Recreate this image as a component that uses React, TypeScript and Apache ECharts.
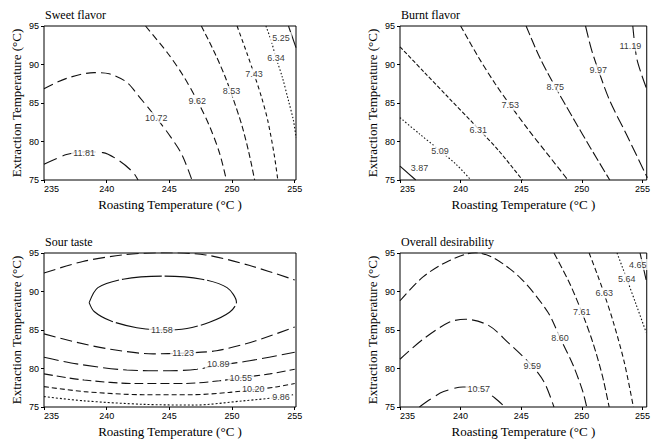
import React, { useEffect, useRef } from "react";
import * as echarts from "echarts";

// ---- axes ----
const roastTicks = [235, 240, 245, 250, 255];
const extractTicks = [75, 80, 85, 90, 95];
const panelTitles = ["Sweet flavor", "Burnt flavor", "Sour taste", "Overall desirability"];
const xAxisName = "Roasting Temperature (°C )";
const yAxisName = "Extraction Temperature (°C)";

// ---- Sweet flavor ----
const sweetLevels = ["11.81", "10.72", "9.62", "8.53", "7.43", "6.34", "5.25"];
const sweetContours = [
  [[235, 77.05], [236.8, 78.3], [238.2, 78.65], [239.7, 78.55], [241.0, 77.5], [242.1, 76.0], [242.5, 75]],
  [[235, 86.85], [236.8, 88.2], [239.0, 88.95], [240.2, 88.8], [241.6, 87.7], [242.6, 85.8], [243.95, 83.1], [245.1, 80.6], [246.0, 78.3], [246.8, 75]],
  [[243.1, 95], [244.9, 91.4], [246.08, 88.6], [247.23, 85.3], [248.2, 82.0], [249.0, 78.5], [249.55, 75]],
  [[247.55, 95], [248.65, 91.4], [249.45, 88.4], [250.1, 85.5], [250.8, 82.0], [251.35, 78.5], [251.8, 75]],
  [[250.4, 95], [251.2, 91.4], [251.75, 88.8], [252.35, 85.75], [252.85, 82.7], [253.35, 78.4], [253.65, 75]],
  [[252.7, 95], [253.1, 93.2], [253.5, 90.9], [254.0, 88.4], [254.5, 85.3], [254.9, 82.7], [255.1, 80.5]],
  [[254.5, 95], [255.1, 92.2]],
];
const sweetLabelAt = [[238.2, 78.5], [243.95, 83.1], [247.23, 85.3], [249.95, 86.5], [251.75, 88.8], [253.5, 90.9], [253.9, 93.5]];

// ---- Burnt flavor ----
const burntLevels = ["3.87", "5.09", "6.31", "7.53", "8.75", "9.97", "11.19"];
const burntContours = [
  [[235, 76.8], [236.3, 75]],
  [[235, 83.1], [236.6, 81.0], [238.3, 78.8], [239.65, 77.0], [240.85, 75]],
  [[235, 92.3], [237, 89.0], [239, 85.7], [241.2, 82.1], [243.2, 78.7], [245.1, 75]],
  [[240.0, 95], [241.45, 91], [242.85, 87.5], [244.1, 84.7], [245.55, 81.6], [247.15, 78.4], [248.85, 75]],
  [[245.4, 95], [246.5, 91.0], [247.8, 87.1], [249.4, 82.7], [250.7, 79.2], [252.3, 75]],
  [[250.3, 95], [250.8, 91.9], [251.35, 89.3], [252.3, 85.3], [253.65, 81.0], [255.4, 75.3]],
  [[254.2, 95], [254.5, 91.0], [254.9, 88.8], [255.4, 86.6]],
];
const burntLabelAt = [[236.6, 76.6], [238.3, 78.8], [241.45, 81.5], [244.1, 84.7], [247.8, 87.1], [251.35, 89.3], [254.0, 92.4]];

// ---- Sour taste ----
const sourLevels = ["11.58", "11.23", "11.23", "10.89", "10.55", "10.20", "9.86"];
const sourContours = [
  [[238.6, 88.55], [239.3, 90.5], [241.3, 91.6], [244.5, 92.0], [247.6, 91.6], [249.6, 90.5], [250.35, 88.6], [249.8, 87.3], [248.2, 86.0], [246.4, 85.2], [244.4, 85.0], [242.4, 85.3], [240.3, 86.2], [239.0, 87.4], [238.6, 88.55]],
  [[235, 92.4], [238.1, 93.9], [241.3, 94.75], [244.5, 95.05], [247.9, 94.75], [251.35, 93.4], [255, 91.5]],
  [[235, 84.5], [237.6, 83.4], [240.3, 82.5], [243.7, 81.9], [246.1, 82.0], [248.75, 82.3], [251.9, 83.6], [255, 85.4]],
  [[235, 81.45], [237.6, 80.6], [241.6, 79.8], [245.05, 79.7], [247.2, 79.9], [248.9, 80.4], [251.4, 81.0], [255, 82.1]],
  [[235, 79.3], [238.2, 78.5], [242.4, 78.05], [246.1, 78.05], [249.0, 78.4], [250.7, 78.8], [253.0, 79.3], [255, 79.9]],
  [[235, 77.65], [238.2, 77.0], [242.9, 76.6], [246.9, 76.6], [249.8, 76.9], [251.7, 77.25], [253.5, 77.6], [255, 78.05]],
  [[235, 76.35], [238.2, 75.8], [242.9, 75.35], [246.9, 75.25], [250.9, 75.8], [253.9, 76.3], [255, 76.65]],
];
const sourLabelAt = [[244.4, 85.0], null, [246.1, 82.0], [248.9, 80.6], [250.7, 78.8], [251.7, 77.3], [253.9, 76.3]];

// ---- Overall desirability ----
const overallLevels = ["10.57", "9.59", "8.60", "7.61", "6.63", "5.64", "4.65"];
const overallContours = [
  [[236.6, 75], [237.5, 76.0], [238.6, 77.0], [240.2, 77.6], [241.5, 77.5], [242.8, 76.2], [243.65, 75]],
  [[235, 81.2], [236.9, 83.8], [239.05, 86.0], [240.4, 86.4], [242.3, 85.6], [243.9, 83.4], [245.9, 80.35], [246.9, 78.2], [247.7, 75]],
  [[235, 88.8], [236.9, 91.9], [239.05, 94.0], [241.2, 95.05], [242.8, 94.3], [245, 91.65], [247.2, 87.3], [248.2, 84.0], [249.3, 80.35], [250.1, 76.9], [250.4, 75]],
  [[247.7, 95], [248.95, 91.2], [250.0, 87.3], [250.9, 83.4], [251.7, 79.0], [252.25, 75]],
  [[250.6, 95], [251.3, 92.1], [251.82, 89.8], [252.6, 86.0], [253.5, 80.8], [254.25, 75]],
  [[252.9, 95], [253.7, 91.65], [254.5, 88.2], [255.3, 84.7]],
  [[254.8, 95], [255.3, 91.5]],
];
const overallLabelAt = [[241.5, 77.3], [245.9, 80.35], [248.2, 84.0], [250.0, 87.3], [251.85, 89.8], [253.7, 91.65], [254.6, 93.5]];

// ---- styles (dash patterns per contour) ----
const sweetDash = [[14, 6], [10, 5], [7, 4], [6, 3], [4, 3], [1.5, 2], "solid"];
const burntDash = ["solid", [1.5, 2], [4, 2], [6, 3], [10, 3], [12, 4], [12, 5]];
const sourDash = [[40, 3], [12, 5], [12, 5], [15, 5], [9, 4], [5, 3], [2, 2]];
const overallDash = [[14, 6], [12, 5], [10, 4], [7, 3], [5, 3], [1.5, 2], "solid"];

const serif = "Liberation Serif";
const sans = "Liberation Sans";

const panels = [
  { levels: sweetLevels, contours: sweetContours, labelAt: sweetLabelAt, dash: sweetDash, left: 44, top: 26, width: 252, xMax: 255.1 },
  { levels: burntLevels, contours: burntContours, labelAt: burntLabelAt, dash: burntDash, left: 400, top: 26, width: 251, xMax: 255.35 },
  { levels: sourLevels, contours: sourContours, labelAt: sourLabelAt, dash: sourDash, left: 44, top: 253, width: 252, xMax: 255.1 },
  { levels: overallLevels, contours: overallContours, labelAt: overallLabelAt, dash: overallDash, left: 400, top: 253, width: 251, xMax: 255.35 },
];

export default function App() {
  const ref = useRef<HTMLDivElement>(null);
  useEffect(() => {
    if (!ref.current) return;
    const chart = echarts.init(ref.current, undefined, { renderer: "svg" });
    const grid: any[] = [];
    const xAxis: any[] = [];
    const yAxis: any[] = [];
    const title: any[] = [];
    const series: any[] = [];
    panels.forEach((p, i) => {
      grid.push({ left: p.left, top: p.top, width: p.width, height: 154, show: true, borderColor: "#000", borderWidth: 1, backgroundColor: "transparent", containLabel: false });
      title.push({
        text: panelTitles[i], left: p.left + 1, top: p.top - 17, padding: 0,
        textStyle: { fontFamily: serif, fontSize: 12, fontWeight: "normal", color: "#000" },
      });
      xAxis.push({
        type: "value", gridIndex: i, min: 235, max: p.xMax,
        name: xAxisName, nameLocation: "middle", nameGap: 18,
        nameTextStyle: { fontFamily: serif, fontSize: 13, color: "#000" },
        axisLine: { show: false },
        axisTick: { show: true, length: 3, customValues: roastTicks, lineStyle: { color: "#000" } },
        axisLabel: { customValues: roastTicks, margin: 4, fontFamily: sans, fontSize: 9, color: "#000", alignMinLabel: "left" },
        splitLine: { show: false },
      });
      yAxis.push({
        type: "value", gridIndex: i, min: 75, max: 95,
        name: yAxisName, nameLocation: "middle", nameGap: 21,
        nameTextStyle: { fontFamily: serif, fontSize: 13, color: "#000" },
        axisLine: { show: false },
        axisTick: { show: true, length: 3, customValues: extractTicks, lineStyle: { color: "#000" } },
        axisLabel: { customValues: extractTicks, margin: 5, fontFamily: sans, fontSize: 9, color: "#000" },
        splitLine: { show: false },
      });
      p.contours.forEach((pts, k) => {
        series.push({
          type: "line", xAxisIndex: i, yAxisIndex: i, data: pts, smooth: 0.3,
          showSymbol: false, symbol: "none", clip: true, silent: true, z: 2,
          lineStyle: { color: "#111", width: 1.1, type: p.dash[k] },
        });
      });
      const labData: any[] = [];
      const labText: string[] = [];
      p.labelAt.forEach((pos, k) => {
        if (pos) { labData.push(pos); labText.push(p.levels[k]); }
      });
      series.push({
        type: "scatter", xAxisIndex: i, yAxisIndex: i, data: labData, symbolSize: 1, z: 5,
        clip: false, silent: true,
        itemStyle: { color: "rgba(0,0,0,0)" },
        label: {
          show: true, position: "inside", formatter: (q: any) => labText[q.dataIndex],
          fontFamily: sans, fontSize: 9, color: "#000", backgroundColor: "#fff", padding: [1, 2],
        },
      });
    });
    chart.setOption({ animation: false, backgroundColor: "#fff", title, grid, xAxis, yAxis, series });
    return () => chart.dispose();
  }, []);
  return <div ref={ref} style={{ position: "fixed", left: 0, top: 0, width: 653, height: 439 }} />;
}
